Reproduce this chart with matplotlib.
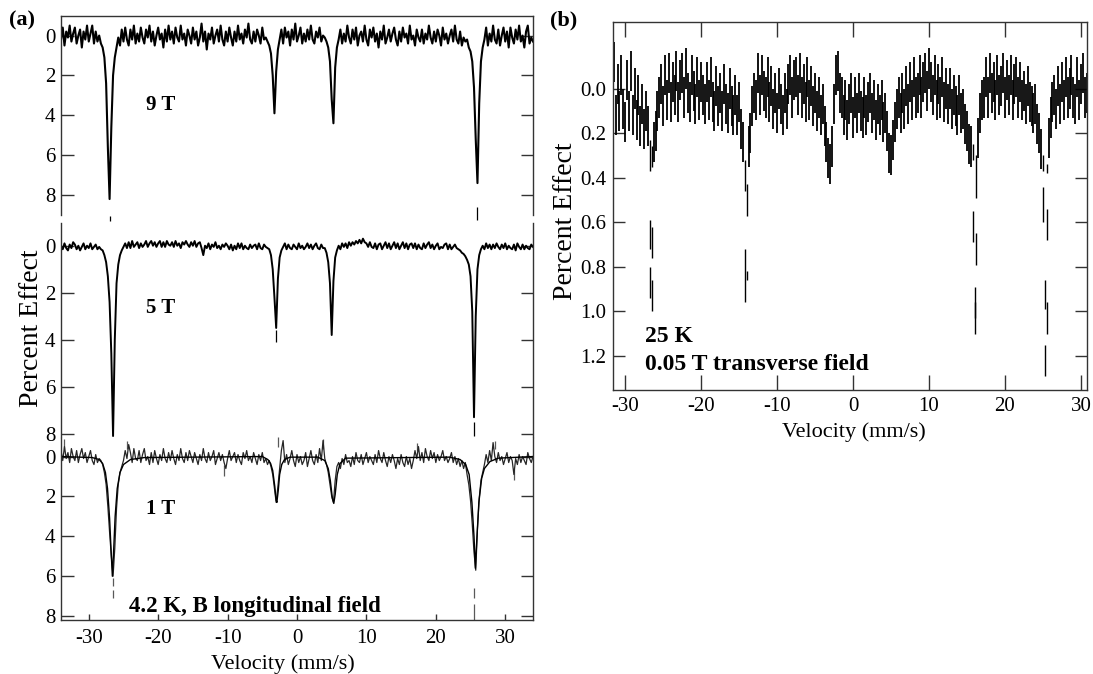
import numpy as np
import matplotlib
matplotlib.use("Agg")
import matplotlib.pyplot as plt

nan = np.nan

# ---------------- panel (a): 4.2 K, longitudinal field, channels every 0.25 mm/s
a_vel = np.arange(-34.0, 34.001, 0.25)

# 9 T spectrum (percent effect)
a9 = [
    0.2, -0.4, 0.5, -0.2, 0.1, -0.5, 0.3, -0.1, -0.4, 0.4, 0.0, -0.3, 0.6, -0.2, 0.2, -0.5,
    0.3, -0.1, -0.5, 0.4, -0.2, 0.3, 0.0, 0.4, 0.6, 1.1, 2.4, 5.6, 8.2, 4.6, 2.0, 1.1,
    0.6, 0.1, 0.5, -0.3, 0.3, -0.4, 0.2, 0.5, -0.3, 0.2, -0.5, 0.4, -0.1, 0.3, -0.4, 0.1,
    0.4, -0.3, 0.1, -0.5, 0.3, -0.2, 0.5, 0.0, -0.4, 0.2, -0.1, 0.6, -0.3, 0.3, -0.5, 0.2,
    -0.2, 0.4, -0.4, 0.1, 0.3, -0.5, 0.2, -0.1, 0.5, -0.3, 0.0, 0.4, -0.4, 0.2, -0.2, 0.5,
    0.1, -0.6, 0.3, -0.2, 0.7, -0.1, 0.2, -0.4, 0.4, 0.0, -0.3, 0.3, -0.5, 0.2, 0.5, -0.2,
    0.3, -0.4, 0.1, 0.5, -0.2, 0.3, -0.5, 0.2, -0.1, 0.4, -0.3, 0.1, -0.6, 0.2, 0.4, -0.2,
    0.3, -0.3, 0.0, 0.4, -0.4, 0.2, 0.1, 0.3, 0.5, 0.9, 2.0, 3.9, 1.8, 0.7, 0.2, -0.3,
    0.4, -0.4, 0.1, -0.2, 0.5, -0.3, 0.2, -0.6, 0.3, 0.0, -0.4, 0.4, -0.1, 0.3, -0.3, 0.2,
    -0.5, 0.2, 0.4, -0.2, 0.1, -0.4, 0.3, 0.0, 0.1, 0.3, 0.6, 1.3, 3.2, 4.4, 1.6, 0.6,
    0.2, -0.3, 0.4, -0.1, 0.3, -0.5, 0.1, 0.4, -0.3, 0.2, -0.4, 0.5, 0.0, -0.2, 0.3, -0.5,
    0.2, 0.5, -0.3, 0.1, -0.4, 0.3, -0.1, 0.6, -0.2, 0.2, -0.5, 0.4, 0.1, -0.3, 0.3, -0.1,
    -0.4, 0.2, 0.5, -0.2, 0.3, -0.4, 0.1, -0.1, 0.4, -0.5, 0.2, 0.0, 0.5, -0.3, 0.1, 0.3,
    -0.3, 0.4, -0.1, 0.2, -0.5, 0.1, 0.4, -0.2, 0.3, -0.3, 0.0, 0.5, -0.4, 0.2, -0.1, 0.4,
    0.0, -0.3, 0.3, -0.5, 0.2, 0.4, -0.2, 0.5, 0.1, 0.3, 0.2, 0.6, 0.8, 1.3, 2.6, 5.2,
    7.4, 3.4, 1.3, 0.6, 0.2, -0.4, 0.5, -0.1, 0.3, -0.5, 0.2, 0.4, -0.3, 0.5, 0.0, -0.4,
    0.3, -0.2, 0.6, -0.4, 0.1, 0.4, -0.3, 0.2, -0.5, 0.3, 0.0, 0.6, -0.2, -0.5, 0.4, 0.1,
    0.3,
]

# 5 T spectrum
a5 = [
    0.0, 0.15, -0.1, 0.1, 0.2, -0.05, 0.1, -0.15, -0.05, 0.15, 0.0, 0.2, 0.05, -0.1, 0.15, 0.0,
    0.1, -0.1, 0.15, 0.05, -0.05, 0.15, 0.05, 0.15, 0.2, 0.4, 0.7, 1.3, 2.4, 4.6, 8.1, 4.0,
    1.6, 0.8, 0.4, 0.2, 0.05, -0.1, 0.1, -0.15, 0.1, -0.2, 0.05, -0.05, -0.15, 0.1, -0.1, 0.05,
    -0.05, -0.2, 0.05, -0.1, -0.2, 0.0, -0.15, 0.05, -0.1, -0.2, 0.05, -0.15, 0.05, -0.2, -0.05, 0.0,
    -0.15, 0.05, -0.2, 0.0, -0.1, 0.1, -0.15, -0.05, -0.2, -0.05, 0.05, -0.15, 0.0, -0.2, 0.05, -0.1,
    -0.15, 0.1, 0.4, 0.0, 0.1, -0.1, 0.15, -0.05, 0.05, -0.15, 0.1, 0.0, 0.15, -0.05, 0.05, -0.1,
    0.0, 0.15, -0.05, 0.2, 0.0, 0.15, -0.1, 0.1, -0.1, 0.15, 0.0, 0.1, 0.15, -0.05, 0.1, 0.0,
    -0.05, 0.15, -0.1, 0.1, 0.15, -0.05, 0.05, 0.1, 0.15, 0.4, 1.0, 2.2, 3.5, 1.4, 0.5, 0.2,
    0.05, -0.1, 0.15, -0.05, 0.1, 0.15, -0.05, 0.05, 0.15, -0.1, 0.1, 0.0, 0.15, 0.05, -0.1, 0.1,
    -0.05, 0.15, 0.0, -0.1, 0.1, 0.15, -0.05, 0.1, 0.1, 0.3, 0.7, 1.6, 3.8, 1.5, 0.5, 0.2,
    0.0, 0.15, -0.1, 0.05, -0.1, 0.1, -0.15, 0.0, -0.15, -0.05, -0.2, -0.1, -0.25, -0.1, -0.3, -0.15,
    -0.1, 0.05, -0.15, 0.05, 0.1, -0.1, 0.15, -0.05, -0.1, 0.15, 0.0, -0.15, 0.1, -0.1, 0.15, 0.0,
    -0.15, 0.1, -0.1, 0.15, 0.0, -0.15, 0.1, -0.1, 0.15, -0.05, -0.1, 0.1, -0.1, 0.15, -0.05, 0.1,
    0.15, -0.1, 0.1, -0.05, -0.15, 0.1, -0.05, 0.15, 0.0, -0.1, 0.15, 0.05, 0.1, -0.05, -0.1, 0.15,
    -0.05, 0.15, 0.05, -0.05, 0.1, 0.15, 0.2, 0.3, 0.35, 0.45, 0.6, 0.8, 1.3, 2.8, 7.3, 3.0,
    1.0, 0.4, 0.15, 0.0, 0.15, -0.1, 0.1, -0.05, 0.15, -0.05, 0.1, -0.1, 0.05, 0.15, -0.05, 0.1,
    -0.1, 0.15, 0.0, 0.1, 0.15, -0.05, 0.2, -0.1, 0.05, 0.15, -0.05, 0.15, 0.0, 0.1, 0.15, -0.05,
    0.05,
]

# 1 T spectrum
a1 = [
    -0.3, 0.2, -0.5, 0.1, -0.2, 0.3, -0.4, 0.0, 0.2, -0.3, 0.3, -0.1, -0.4, 0.1, -0.2, 0.3,
    0.0, -0.3, 0.2, 0.4, -0.1, 0.3, 0.1, 0.2, 0.4, 0.8, 1.4, 2.5, 3.8, 5.0, 6.0, 4.6,
    2.6, 1.4, 0.8, 0.5, 0.2, -0.3, 0.1, -0.6, -0.2, 0.3, -0.4, 0.1, 0.2, -0.3, 0.3, -0.1,
    -0.4, 0.2, 0.0, 0.4, -0.2, 0.3, -0.3, 0.1, 0.4, -0.1, 0.2, -0.4, 0.1, 0.3, -0.2, 0.2,
    -0.3, 0.1, 0.4, -0.1, 0.2, -0.4, 0.1, 0.3, -0.2, 0.2, -0.3, 0.0, 0.3, -0.2, 0.1, 0.4,
    -0.1, 0.2, -0.4, 0.1, 0.3, -0.2, 0.2, 0.0, -0.3, 0.4, 0.1, -0.2, 0.2, -0.1, 0.3, 0.6,
    0.1, -0.3, 0.2, 0.0, -0.2, 0.3, -0.1, 0.2, 0.4, -0.2, 0.1, -0.3, 0.2, 0.0, 0.3, -0.2,
    0.1, 0.4, -0.1, 0.2, -0.2, 0.3, 0.1, 0.4, 0.2, 0.5, 0.9, 1.6, 2.3, 1.5, 0.6, -0.3,
    -0.8, 0.3, -0.1, 0.4, 0.1, -0.3, 0.2, 0.5, -0.1, 0.3, 0.0, 0.4, 0.2, -0.2, 0.5, 0.1,
    -0.3, 0.2, 0.4, -0.1, 0.3, -0.4, 0.2, -0.8, 0.1, 0.4, 0.8, 1.4, 2.0, 2.3, 1.2, 0.5,
    0.3, 0.6, 0.1, 0.4, -0.1, 0.3, 0.2, 0.5, 0.0, 0.4, -0.2, 0.2, 0.3, -0.1, 0.4, 0.1,
    -0.2, 0.3, 0.0, 0.2, 0.4, -0.1, 0.3, -0.3, 0.1, 0.3, -0.2, 0.2, 0.5, 0.0, 0.3, -0.1,
    0.2, 0.6, 0.1, 0.4, -0.1, 0.3, 0.5, 0.0, 0.4, 0.1, 0.6, 0.2, -0.3, 0.1, -0.5, 0.2,
    -0.2, 0.3, -0.4, 0.0, 0.2, -0.3, 0.1, -0.2, 0.3, -0.1, 0.2, 0.0, -0.3, 0.2, 0.0, 0.3,
    0.1, -0.2, 0.3, 0.0, 0.4, 0.1, 0.5, 0.2, 0.6, 0.3, 0.9, 1.4, 2.2, 3.4, 4.8, 5.7,
    3.6, 2.1, 1.2, 0.8, 0.4, -0.1, 0.3, -0.3, 0.2, -0.7, 0.0, 0.3, -0.2, 0.2, 0.0, 0.4,
    0.1, -0.2, 0.3, 0.0, 0.2, 0.9, 0.1, 0.4, -0.1, 0.3, 0.0, 0.2, 0.4, -0.2, 0.1, 0.3,
    0.0,
]

# fitted curve through the 1 T data
a1_fit_v = [-34.0, -29.5, -28.5, -28.0, -27.6, -27.3, -27.0, -26.8, -26.6, -26.4, -26.2, -25.9,
            -25.5, -25.0, -24.0, -22.0, -5.0, -4.2, -3.8, -3.5, -3.2, -3.0, -2.9, -2.7,
            -2.5, -2.2, -1.8, -1.0, 3.0, 4.0, 4.5, 4.8, 5.1, 5.3, 5.5, 5.8,
            6.2, 7.0, 22.0, 23.5, 24.3, 24.8, 25.2, 25.5, 25.7, 25.9, 26.2, 26.6,
            27.0, 27.8, 29.0, 34.0]
a1_fit_y = [0.0, 0.05, 0.15, 0.35, 0.8, 1.6, 3.1, 4.6, 6.0, 4.6, 3.0, 1.6,
            0.8, 0.4, 0.15, 0.05, 0.0, 0.15, 0.35, 0.7, 1.5, 2.2, 2.3, 1.7,
            0.9, 0.4, 0.15, 0.03, 0.03, 0.2, 0.6, 1.2, 2.1, 2.35, 1.9, 0.9,
            0.35, 0.08, 0.03, 0.15, 0.4, 0.9, 2.3, 4.0, 5.6, 4.2, 2.3, 1.1,
            0.6, 0.25, 0.08, 0.0]

# isolated error-bar dashes (velocity, lower, upper)
a9_dash_v = [-27.0, 26.0]
a9_dash_lo = [9.05, 8.6]
a9_dash_hi = [9.3, 9.25]
a5_dash_v = [-3.0, 25.5]
a5_dash_lo = [3.6, 7.5]
a5_dash_hi = [4.1, 8.1]
a1_dash_v = [-26.5, -26.5, 25.5, 25.5, -33.5, -24.5, -10.5, -2.75, 3.75, 17.25, 31.25, 28.5]
a1_dash_lo = [6.1, 6.7, 6.6, 7.4, -0.9, -0.8, 0.4, -1.0, -0.9, -0.7, 0.6, -0.8]
a1_dash_hi = [6.5, 7.1, 7.1, 8.2, -0.4, -0.4, 1.0, -0.5, -0.4, -0.3, 1.2, -0.4]

# ---------------- panel (b): 25 K, 0.05 T transverse, channels every 0.25 mm/s
b_vel = np.arange(-31.5, 30.751, 0.25)
b_mid = [
    -0.12, 0.12, -0.02, 0.10, -0.06, 0.09, 0.15, -0.04, 0.10, -0.08, 0.12, 0.00, 0.14, 0.03, 0.17, 0.07,
    0.18, 0.10, 0.17, nan, nan, 0.24, 0.19, 0.10, 0.04, -0.02, 0.08, -0.06, 0.05, -0.07, 0.06, -0.03,
    0.03, -0.08, 0.06, -0.04, -0.07, 0.04, -0.09, 0.02, 0.06, -0.06, 0.01, 0.07, -0.05, 0.05, -0.03, 0.03,
    0.07, -0.03, 0.05, -0.05, 0.06, 0.10, -0.01, 0.08, 0.02, 0.10, -0.02, 0.07, 0.11, 0.00, 0.08, 0.12,
    0.03, 0.12, 0.06, 0.18, 0.24, nan, nan, 0.26, 0.20, 0.08, 0.02, 0.05, -0.07, 0.03, -0.06, 0.01,
    0.04, -0.05, 0.06, -0.01, 0.09, 0.02, 0.11, 0.00, 0.07, 0.12, 0.02, 0.09, -0.02, -0.06, 0.04, -0.04,
    -0.05, 0.03, -0.07, 0.04, -0.02, 0.06, -0.05, 0.05, -0.01, 0.08, 0.02, 0.10, 0.04, 0.12, 0.07, 0.17,
    0.24, 0.31, 0.34, 0.26, 0.07, -0.06, -0.08, 0.02, 0.04, 0.12, 0.05, 0.14, 0.07, 0.02, 0.13, 0.04,
    0.11, 0.02, 0.10, 0.13, 0.04, 0.12, 0.06, 0.02, 0.11, 0.05, 0.14, 0.07, 0.12, 0.05, 0.15, 0.11,
    0.19, 0.29, 0.30, 0.23, 0.15, 0.09, 0.04, 0.11, 0.02, 0.09, -0.01, 0.07, -0.03, 0.05, -0.05, 0.04,
    0.02, -0.06, 0.04, -0.03, -0.07, 0.01, -0.09, -0.03, 0.03, -0.06, 0.05, -0.02, 0.04, -0.05, 0.06, 0.00,
    0.07, 0.00, 0.09, 0.03, 0.08, 0.12, 0.03, 0.11, 0.09, 0.16, 0.19, 0.25, 0.26, nan, nan, nan,
    0.22, 0.11, 0.05, 0.04, -0.05, 0.04, -0.07, 0.02, -0.03, 0.05, -0.06, 0.03, -0.01, -0.07, 0.04, -0.04,
    0.03, -0.06, 0.05, -0.02, -0.05, 0.04, -0.03, 0.05, 0.01, 0.07, -0.01, 0.06, 0.08, 0.11, 0.07, 0.16,
    0.20, 0.27, nan, nan, nan, 0.22, 0.13, 0.06, 0.03, 0.09, -0.01, 0.07, -0.03, 0.05, -0.05, 0.04,
    0.00, -0.06, 0.04, 0.07, -0.05, 0.05, -0.02, -0.07, 0.04, 0.02,
]
b_half = 0.09  # half length of each error bar

# deep, isolated error bars at the absorption lines
b_deep_v = [-26.75, -26.75, -26.75, -26.5, -26.5, -26.5, -14.25, -14.25, -14.0, -14.0,
            15.75, 15.75, 16.0, 16.0, 16.25, 16.25, 25.0, 25.0, 25.25, 25.25, 25.5, 25.5, 25.5]
b_deep_lo = [0.23, 0.59, 0.80, 0.26, 0.62, 0.86, 0.32, 0.72, 0.43, 0.82,
             0.25, 0.55, 0.89, 0.96, 0.30, 0.65, 0.30, 0.44, 0.86, 1.15, 0.34, 0.54, 0.96]
b_deep_hi = [0.37, 0.72, 0.94, 0.35, 0.76, 1.00, 0.46, 0.96, 0.57, 0.86,
             0.32, 0.69, 1.03, 1.10, 0.49, 0.79, 0.37, 0.60, 0.99, 1.29, 0.38, 0.68, 1.10]

# ---------------- figure
plt.rcParams['font.family'] = ['Liberation Serif', 'DejaVu Serif']
plt.rcParams['axes.unicode_minus'] = False

W, H = 1093, 674
fig = plt.figure(figsize=(W / 100, H / 100), dpi=100)


def rect(x0, y0, x1, y1):
    # pixel box (top-left origin) -> figure fraction
    return [x0 / W, 1 - y1 / H, (x1 - x0) / W, (y1 - y0) / H]


ax9 = fig.add_axes(rect(61, 16, 533, 215))
ax5 = fig.add_axes(rect(61, 222.7, 533, 436.5))
ax1 = fig.add_axes(rect(61, 438, 533, 619.5))
axb = fig.add_axes(rect(613, 21.7, 1087, 390))

spine_col = '#333333'
for ax, ylim in zip([ax9, ax5, ax1], [(9.0, -0.98), (8.12, -0.98), (8.17, -0.93)]):
    ax.set_xlim(-34, 34)
    ax.set_ylim(*ylim)
    ax.set_yticks([0, 2, 4, 6, 8])
    ax.tick_params(axis='y', direction='in', left=True, right=True, length=9,
                   width=1, labelsize=15, pad=4, color=spine_col)
    for s in ax.spines.values():
        s.set_color(spine_col)
        s.set_linewidth(1.0)

ax9.spines['bottom'].set_visible(False)
ax5.spines['top'].set_visible(False)
ax5.spines['bottom'].set_visible(False)
ax1.spines['top'].set_visible(False)
for ax in [ax9, ax5]:
    ax.tick_params(axis='x', bottom=False, labelbottom=False)
ax1.set_xticks([-30, -20, -10, 0, 10, 20, 30])
ax1.tick_params(axis='x', direction='in', length=4, width=1, labelsize=15, pad=7, color=spine_col)

ax9.plot(a_vel, a9, color='k', lw=1.5)
ax9.vlines(a9_dash_v, a9_dash_lo, a9_dash_hi, color='k', lw=0.9, clip_on=False)
ax5.plot(a_vel, a5, color='k', lw=1.4)
ax5.vlines(a5_dash_v, a5_dash_lo, a5_dash_hi, color='k', lw=0.9)
ax1.vlines(a1_dash_v, a1_dash_lo, a1_dash_hi, color='0.35', lw=0.9, clip_on=False)
ax1.plot(a_vel, a1, color='0.15', lw=0.9)
ax1.plot(a1_fit_v, a1_fit_y, color='k', lw=1.0)

bold = dict(fontsize=15, fontweight='bold', va='center', ha='left')
ax9.text(-21.8, 3.5, '9 T', **bold)
ax5.text(-21.8, 2.65, '5 T', **bold)
ax1.text(-21.8, 2.65, '1 T', **bold)
ax1.text(-24.2, 7.5, '4.2 K, B longitudinal field', fontsize=16.5, fontweight='bold',
         va='center', ha='left')

fig.text(283 / W, 1 - 664 / H, 'Velocity (mm/s)', fontsize=16, ha='center', va='center')
fig.text(32 / W, 1 - 328 / H, 'Percent Effect', fontsize=20, rotation=90, ha='center', va='center')
fig.text(22 / W, 1 - 20 / H, '(a)', fontsize=16, fontweight='bold', ha='center', va='center')

# panel (b)
b_mid = np.array(b_mid)
ok = ~np.isnan(b_mid)
axb.vlines(b_vel[ok], b_mid[ok] - b_half, b_mid[ok] + b_half, color='k', lw=1.3)
axb.vlines(b_deep_v, b_deep_lo, b_deep_hi, color='k', lw=1.0)
axb.set_xlim(-31.6, 30.8)
axb.set_ylim(1.353, -0.30)
axb.set_xticks([-30, -20, -10, 0, 10, 20, 30])
axb.set_yticks([0.0, 0.2, 0.4, 0.6, 0.8, 1.0, 1.2])
axb.yaxis.set_major_formatter(matplotlib.ticker.FormatStrFormatter('%.1f'))
axb.tick_params(axis='x', direction='in', top=True, bottom=True, length=11, width=1,
                labelsize=15, pad=5, color=spine_col)
axb.tick_params(axis='y', direction='in', left=True, right=True, length=8.5, width=1,
                labelsize=15, pad=5, color=spine_col)
for s in axb.spines.values():
    s.set_color(spine_col)
    s.set_linewidth(1.0)

axb.text(-27.4, 1.115, '25 K', fontsize=17, fontweight='bold', va='center', ha='left')
axb.text(-27.4, 1.24, '0.05 T transverse field', fontsize=17, fontweight='bold',
         va='center', ha='left')

fig.text(854 / W, 1 - 432 / H, 'Velocity (mm/s)', fontsize=16, ha='center', va='center')
fig.text(566 / W, 1 - 221 / H, 'Percent Effect', fontsize=20, rotation=90, ha='center', va='center')
fig.text(564 / W, 1 - 20 / H, '(b)', fontsize=16, fontweight='bold', ha='center', va='center')

fig.savefig('out.png', dpi=100)
